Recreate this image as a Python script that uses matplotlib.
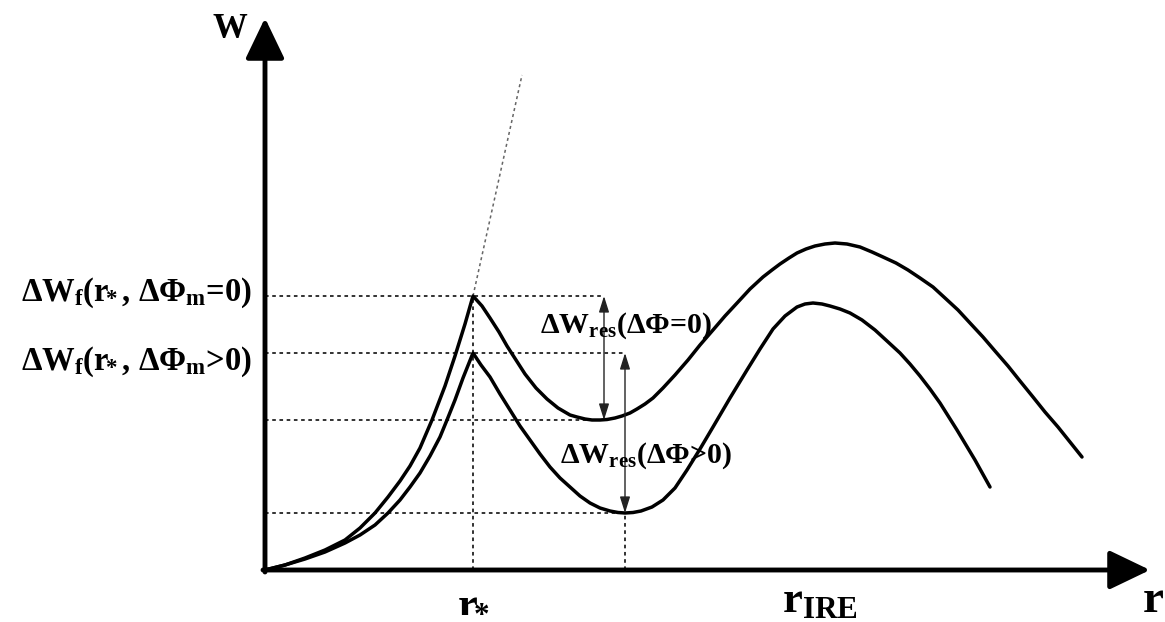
import matplotlib
matplotlib.use("Agg")
import matplotlib.pyplot as plt
import numpy as np

plt.rcParams['font.family'] = ['Liberation Serif', 'DejaVu Serif']
plt.rcParams['font.weight'] = 'bold'
plt.rcParams['mathtext.fontset'] = 'custom'
plt.rcParams['mathtext.rm'] = 'Liberation Serif:bold'
plt.rcParams['mathtext.it'] = 'Liberation Serif:bold'
plt.rcParams['mathtext.bf'] = 'Liberation Serif:bold'

# upper curve (dPhi = 0)
r_up = [0, 0.20, 0.40, 0.60, 0.80, 0.95, 1.10, 1.23, 1.35, 1.45, 1.55, 1.67, 1.80, 1.90, 2.00, 2.08,
        2.17, 2.25, 2.34, 2.42, 2.51, 2.60, 2.71, 2.82, 2.93, 3.05, 3.12, 3.20, 3.27, 3.35,
        3.42, 3.50, 3.57, 3.65, 3.72, 3.80, 3.88, 3.98, 4.10, 4.23, 4.35, 4.48, 4.60, 4.73, 4.85, 4.98,
        5.07, 5.15, 5.24, 5.32, 5.41, 5.50, 5.60, 5.70, 5.82, 5.95, 6.07, 6.18, 6.31, 6.43,
        6.55, 6.68, 6.80, 6.93, 7.05, 7.18, 7.30, 7.43, 7.55, 7.68, 7.80, 7.93, 8.05, 8.17]
W_up = [0, 0.05, 0.12, 0.20, 0.30, 0.42, 0.57, 0.73, 0.89, 1.04, 1.22, 1.50, 1.84, 2.14, 2.46, 2.74,
        2.64, 2.52, 2.38, 2.24, 2.10, 1.96, 1.82, 1.71, 1.62, 1.55, 1.53, 1.51, 1.50, 1.50,
        1.505, 1.52, 1.54, 1.57, 1.61, 1.66, 1.72, 1.82, 1.95, 2.10, 2.25, 2.40, 2.54, 2.68, 2.81, 2.93,
        3.00, 3.06, 3.12, 3.17, 3.21, 3.24, 3.26, 3.27, 3.26, 3.23, 3.18, 3.13, 3.07, 3.00,
        2.92, 2.83, 2.72, 2.60, 2.47, 2.33, 2.19, 2.04, 1.89, 1.73, 1.58, 1.43, 1.28, 1.13]

# lower curve (dPhi > 0)
r_lo = [0, 0.20, 0.40, 0.60, 0.80, 0.95, 1.10, 1.23, 1.35, 1.45, 1.55, 1.65, 1.75, 1.82, 1.90, 1.98, 2.08,
        2.16, 2.25, 2.35, 2.45, 2.55, 2.65, 2.75, 2.85, 2.95, 3.05, 3.15, 3.25, 3.35, 3.45, 3.53, 3.60,
        3.68, 3.76, 3.87, 3.98, 4.10, 4.22, 4.35, 4.48, 4.65, 4.82, 4.95, 5.08, 5.20, 5.32, 5.40, 5.48,
        5.57, 5.65, 5.75, 5.85, 5.97, 6.10, 6.22, 6.35, 6.45, 6.55, 6.65, 6.75, 6.92, 7.10, 7.25]
W_lo = [0, 0.05, 0.11, 0.18, 0.27, 0.35, 0.45, 0.57, 0.70, 0.83, 0.97, 1.14, 1.33, 1.50, 1.70, 1.92, 2.17,
        2.05, 1.93, 1.76, 1.60, 1.44, 1.30, 1.16, 1.03, 0.92, 0.83, 0.74, 0.67, 0.62, 0.59, 0.575, 0.57,
        0.575, 0.59, 0.63, 0.70, 0.82, 1.00, 1.21, 1.43, 1.72, 2.00, 2.21, 2.41, 2.54, 2.63, 2.66, 2.67,
        2.66, 2.64, 2.61, 2.57, 2.50, 2.40, 2.29, 2.17, 2.06, 1.94, 1.81, 1.67, 1.40, 1.10, 0.83]

r_star = 2.08
W_f0 = 2.74      # peak, dPhi_m = 0
W_f1 = 2.17      # peak, dPhi_m > 0
W_min0 = 1.50
W_min1 = 0.57
r_arrow0 = 3.39
r_min1 = 3.60
r_ire = 5.55
tangent_r = [2.08, 2.57]
tangent_W = [2.74, 4.95]

fig = plt.figure(figsize=(11.65, 6.22), dpi=100)
ax = fig.add_axes([0, 0, 1, 1])
ax.set_xlim(-2.65, 9.0)
ax.set_ylim(-0.52, 5.70)
ax.axis('off')

# axes with arrows
head = '-|>,head_length=1.25,head_width=0.6'
ax.annotate('', xy=(0, 5.52), xytext=(0, -0.02),
            arrowprops=dict(arrowstyle=head, lw=3.5, color='black',
                            mutation_scale=20, shrinkA=0, shrinkB=0))
ax.annotate('', xy=(8.85, 0), xytext=(-0.02, 0),
            arrowprops=dict(arrowstyle=head, lw=3.5, color='black',
                            mutation_scale=20, shrinkA=0, shrinkB=0))

dot = dict(color='#222222', lw=1.3, linestyle=(0, (2, 2)))
ax.plot([0, r_arrow0], [W_f0, W_f0], **dot)
ax.plot([0, r_min1], [W_f1, W_f1], **dot)
ax.plot([0, 3.33], [W_min0, W_min0], **dot)
ax.plot([0, r_min1], [W_min1, W_min1], **dot)
ax.plot([r_star, r_star], [0, W_f0], **dot)
ax.plot([r_min1, r_min1], [0, W_min1], **dot)
ax.plot(tangent_r, tangent_W, color='#666666', lw=1.1, linestyle=(0, (2, 2)))

ax.plot(r_up, W_up, color='black', lw=2.5, solid_joinstyle='round', solid_capstyle='round')
ax.plot(r_lo, W_lo, color='black', lw=2.5, solid_joinstyle='round', solid_capstyle='round')

# double arrows
for rr, lo, hi in [(r_arrow0, W_min0, W_f0), (r_min1, W_min1, W_f1)]:
    ax.annotate('', xy=(rr, hi), xytext=(rr, lo),
                arrowprops=dict(arrowstyle='<|-|>,head_length=0.7,head_width=0.22', lw=1.0,
                                color='#222222', mutation_scale=14, shrinkA=0, shrinkB=0))

star = '$_{\\!\\!*}$'
ax.text(-0.35, 5.40, 'W', fontsize=25, fontweight='bold', ha='center', va='center')
ax.text(-0.13, 2.69, 'ΔW$_{\\rm f}$(r' + star + ', ΔΦ$_{\\rm m}$=0)', fontsize=23.5, fontweight='bold',
        ha='right', va='baseline')
ax.text(-0.13, 2.00, 'ΔW$_{\\rm f}$(r' + star + ', ΔΦ$_{\\rm m}$>0)', fontsize=23.5, fontweight='bold',
        ha='right', va='baseline')
ax.text(2.75, 2.37, 'ΔW$_{\\rm res}$(ΔΦ=0)', fontsize=21.5, fontweight='bold', ha='left', va='baseline')
ax.text(2.95, 1.07, 'ΔW$_{\\rm res}$(ΔΦ>0)', fontsize=21.5, fontweight='bold', ha='left', va='baseline')

ax.text(r_star, -0.42, 'r' + star, fontsize=32, fontweight='bold', ha='center', va='baseline')
ax.text(r_ire, -0.42, 'r$_{\\rm IRE}$', fontsize=32, fontweight='bold', ha='center', va='baseline')
ax.text(8.88, -0.42, 'r', fontsize=34, fontweight='bold', ha='center', va='baseline')

fig.savefig('out.png', dpi=100)
